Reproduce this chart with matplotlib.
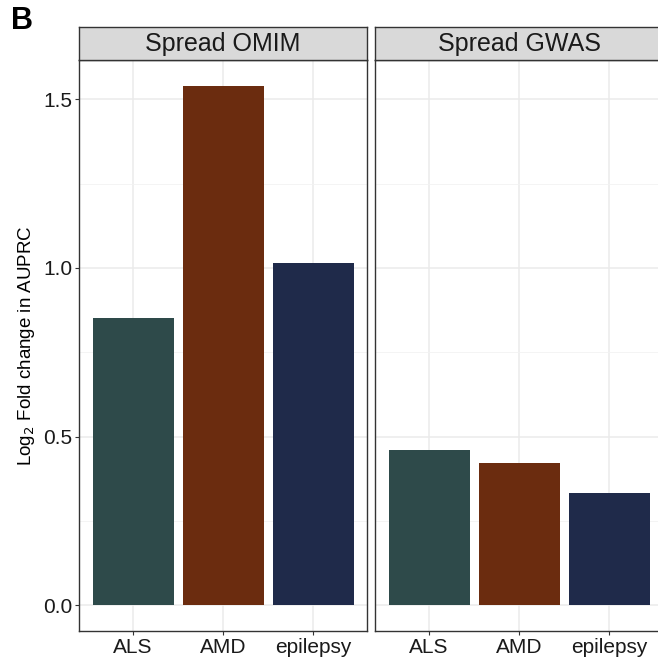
import matplotlib.pyplot as plt

plt.rcParams['font.family'] = ['Liberation Sans', 'DejaVu Sans']

categories = ["ALS", "AMD", "epilepsy"]
omim = [0.851, 1.540, 1.015]
gwas = [0.459, 0.421, 0.331]
panels = ["Spread OMIM", "Spread GWAS"]
colors = ["#2E4A4A", "#6B2C0F", "#1F2A4A"]

W, H = 658, 659
fig = plt.figure(figsize=(W / 100, H / 100), dpi=100)

ymin, ymax = -0.077, 1.617
bottom, top = 631, 60
lefts = [79, 375]
width = 288

for i, (name, vals) in enumerate(zip(panels, [omim, gwas])):
    ax = fig.add_axes([lefts[i] / W, 1 - bottom / H, width / W, (bottom - top) / H])
    x = list(range(1, len(categories) + 1))
    ax.bar(x, vals, width=0.9, color=colors, zorder=2)
    ax.set_xlim(0.4, 3.6)
    ax.set_ylim(ymin, ymax)
    ax.set_xticks(x)
    ax.set_xticklabels(categories, fontsize=15, color="#1a1a1a")
    ax.set_yticks([0.0, 0.5, 1.0, 1.5])
    ax.set_yticks([0.25, 0.75, 1.25], minor=True)
    if i == 0:
        ax.set_yticklabels(["0.0", "0.5", "1.0", "1.5"], fontsize=15, color="#1a1a1a")
        ax.set_ylabel("Log$_2$ Fold change in AUPRC", fontsize=13.5, labelpad=4)
    else:
        ax.tick_params(axis="y", which="both", left=False, labelleft=False)
    ax.grid(True, which="major", color="#EBEBEB", linewidth=1.1, zorder=0)
    ax.grid(True, which="minor", axis="y", color="#F2F2F2", linewidth=0.6, zorder=0)
    ax.set_axisbelow(True)
    ax.tick_params(axis="both", which="major", length=3, width=0.8, color="#333333", pad=2)
    ax.tick_params(axis="y", which="minor", length=0)
    for s in ax.spines.values():
        s.set_color("#333333")
        s.set_linewidth(1.0)

    # facet strip
    sax = fig.add_axes([lefts[i] / W, 1 - top / H, width / W, 33 / H])
    sax.set_xticks([])
    sax.set_yticks([])
    sax.set_facecolor("#D9D9D9")
    for s in sax.spines.values():
        s.set_color("#333333")
        s.set_linewidth(1.0)
    sax.text(0.5, 0.47, name, ha="center", va="center", fontsize=18, color="#1a1a1a",
             transform=sax.transAxes)

fig.text(11 / W, 1 - 21 / H, "B", fontsize=22, fontweight="bold", ha="left", va="center")

fig.savefig("out.png", dpi=100)
